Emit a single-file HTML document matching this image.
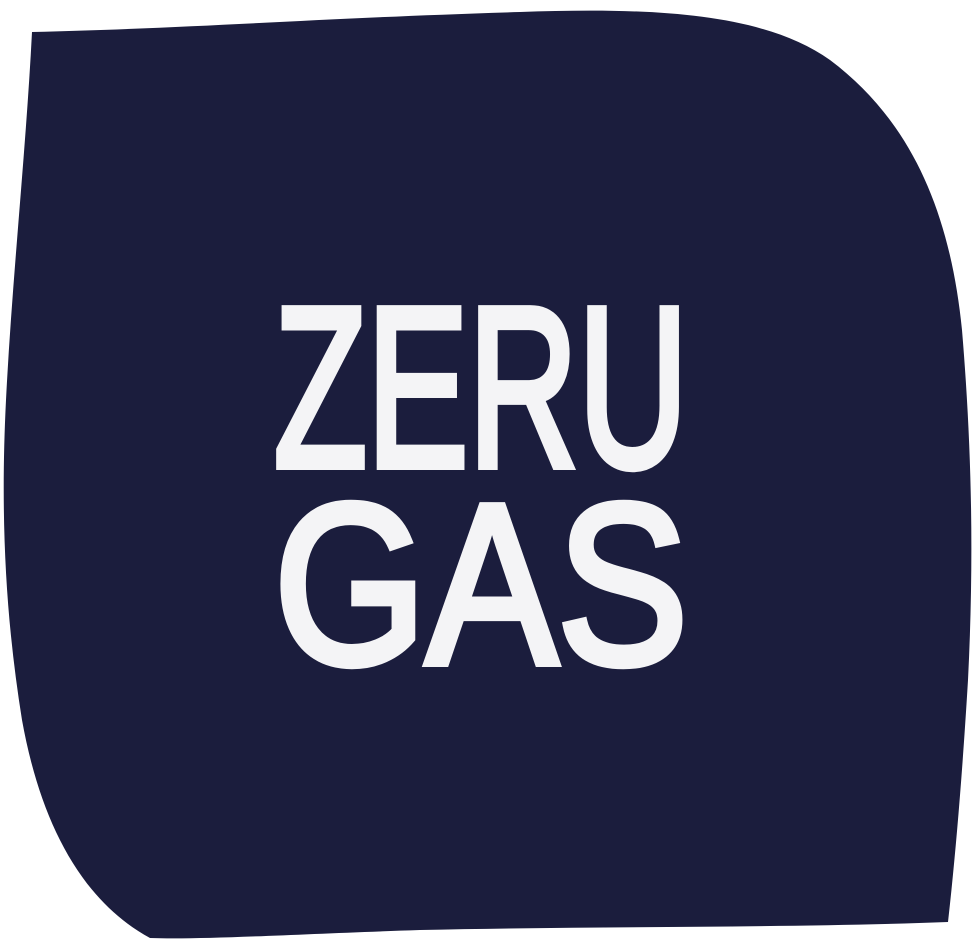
<!DOCTYPE html>
<html>
<head>
<meta charset="utf-8">
<style>
  html, body { margin: 0; padding: 0; background: #ffffff; }
  body { width: 974px; height: 948px; overflow: hidden; }
  svg { display: block; }
</style>
</head>
<body>
<svg width="974" height="948" viewBox="0 0 974 948">
  <path fill="#1b1d3d"
    d="M32,32 C200,28 320,18 520,12 C640,8 760,10 830,60 C910,120 950,210 962,330
       C972,450 974,560 968,680 C962,780 955,860 948,922
       C800,928 600,926 420,930 C300,934 200,940 150,938
       C80,900 40,820 22,720 C6,620 0,520 6,400 C12,280 26,150 32,32 Z"/>
  <text x="274" y="466"
    font-family="Liberation Sans, sans-serif" font-size="228" fill="#f4f4f6"
    stroke="#f4f4f6" stroke-width="8" stroke-linejoin="miter" textLength="414" lengthAdjust="spacingAndGlyphs">ZERU</text>
  <text x="274" y="663"
    font-family="Liberation Sans, sans-serif" font-size="228" fill="#f4f4f6"
    stroke="#f4f4f6" stroke-width="8" stroke-linejoin="miter" textLength="414" lengthAdjust="spacingAndGlyphs">GAS</text>
</svg>
</body>
</html>
